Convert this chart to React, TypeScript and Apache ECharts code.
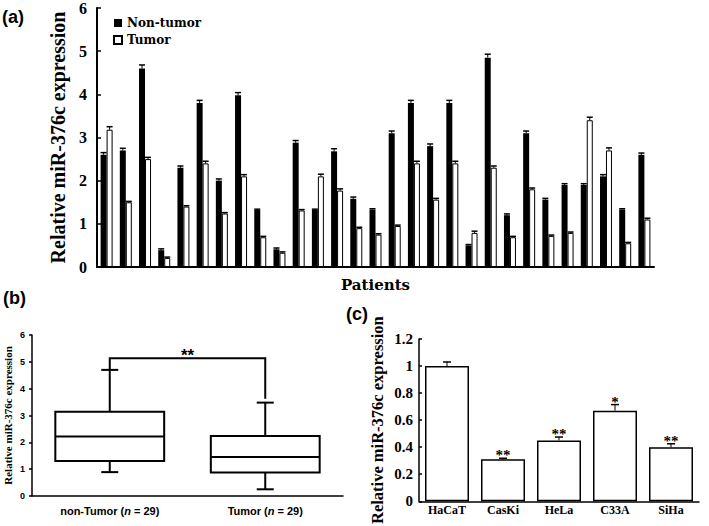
import React, { useEffect, useRef } from "react";
import * as echarts from "echarts";

// ---- Panel (a) ----
const patients = ["1","2","3","4","5","6","7","8","9","10","11","12","13","14","15","16","17","18","19","20","21","22","23","24","25","26","27","28","29"];
const nonTumor = [2.6, 2.7, 4.6, 0.39, 2.3, 3.8, 2.0, 3.98, 1.32, 0.41, 2.88, 1.32, 2.68, 1.58, 1.33, 3.1, 3.8, 2.8, 3.8, 0.5, 4.85, 1.2, 3.1, 1.56, 1.9, 1.9, 2.1, 1.33, 2.6];
const nonTumorErr = [0.05, 0.05, 0.08, 0.03, 0.04, 0.06, 0.04, 0.06, 0.02, 0.03, 0.05, 0.02, 0.06, 0.04, 0.02, 0.05, 0.06, 0.05, 0.06, 0.02, 0.08, 0.03, 0.05, 0.03, 0.03, 0.03, 0.04, 0.02, 0.04];
const tumor = [3.18, 1.5, 2.5, 0.21, 1.4, 2.4, 1.24, 2.1, 0.69, 0.33, 1.31, 2.1, 1.77, 0.9, 0.75, 0.95, 2.4, 1.56, 2.4, 0.79, 2.3, 0.69, 1.8, 0.72, 0.79, 3.4, 2.7, 0.55, 1.1];
const tumorErr = [0.07, 0.02, 0.04, 0.02, 0.02, 0.05, 0.02, 0.04, 0.02, 0.02, 0.02, 0.05, 0.04, 0.02, 0.02, 0.02, 0.05, 0.03, 0.05, 0.04, 0.04, 0.02, 0.03, 0.02, 0.02, 0.07, 0.06, 0.02, 0.03];

// ---- Panel (b) ----
const boxGroups = ["non-Tumor", "Tumor"];
const sampleSizes = [29, 29];
const boxMin = [0.89, 0.25];
const boxQ1 = [1.3, 0.88];
const boxMedian = [2.22, 1.45];
const boxQ3 = [3.14, 2.24];
const boxMax = [4.7, 3.48];
const bracketLevel = [5.13];
const bracketEnds = [4.72, 3.62];
const bracketLabel = ["**"];

// ---- Panel (c) ----
const cellLines = ["HaCaT", "CasKi", "HeLa", "C33A", "SiHa"];
const cellValues = [1.0, 0.31, 0.45, 0.67, 0.4];
const cellErr = [0.03, 0.008, 0.025, 0.045, 0.025];
const cellSig = ["", "**", "**", "*", "**"];

const SERIF = '"Liberation Serif", "Times New Roman", serif';
const SANS = '"Liberation Sans", Arial, sans-serif';

function errRender(offset: number, capHalf: number, labels?: string[]) {
  return (params: any, api: any) => {
    const i = api.value(0);
    const v = api.value(1);
    const e = api.value(2);
    const base = api.coord([i, v]);
    const top = api.coord([i, v + e]);
    const x = base[0] + offset;
    const children: any[] = [
      { type: "line", shape: { x1: x, y1: base[1], x2: x, y2: top[1] }, style: { stroke: "#000", lineWidth: 1 } },
      { type: "line", shape: { x1: x - capHalf, y1: top[1], x2: x + capHalf, y2: top[1] }, style: { stroke: "#000", lineWidth: 1.5 } },
    ];
    if (labels && labels[params.dataIndex]) {
      children.push({
        type: "text",
        style: {
          text: labels[params.dataIndex],
          x,
          y: top[1] - 3,
          align: "center",
          verticalAlign: "middle",
          font: `bold 15px ${SERIF}`,
          fill: "#000",
        },
      });
    }
    return { type: "group", children };
  };
}

export default function App() {
  const ref = useRef<HTMLDivElement>(null);
  useEffect(() => {
    document.body.style.margin = "0";
    if (!ref.current) return;
    const chart = echarts.init(ref.current, null, { renderer: "svg" });
    const option: any = {
      animation: false,
      backgroundColor: "#fff",
      grid: [
        { left: 97, top: 5, right: 55, bottom: 259 },
        { left: 32, top: 335, right: 366, bottom: 30 },
        { left: 419, top: 339, right: 10, bottom: 19 },
      ],
      legend: {
        data: ["Non-tumor", "Tumor"],
        orient: "vertical",
        left: 113,
        top: 16,
        padding: 0,
        icon: "rect",
        itemWidth: 8,
        itemHeight: 8,
        itemGap: 3,
        textStyle: { fontFamily: '"DejaVu Serif", serif', fontWeight: "bold", fontSize: 12, color: "#000", lineHeight: 14 },
      },
      xAxis: [
        {
          gridIndex: 0,
          type: "category",
          data: patients,
          axisLine: { lineStyle: { color: "#000", width: 2 } },
          axisTick: { inside: true, length: 5, lineStyle: { color: "#000", width: 2 } },
          axisLabel: { show: false },
          name: "Patients",
          nameLocation: "middle",
          nameGap: 10,
          nameTextStyle: { fontFamily: '"DejaVu Serif", serif', fontWeight: "bold", fontSize: 15, color: "#000" },
        },
        {
          gridIndex: 1,
          type: "category",
          data: boxGroups,
          axisLine: { lineStyle: { color: "#000", width: 1.5 } },
          axisTick: { alignWithLabel: true, length: 3, lineStyle: { color: "#000", width: 1.5 } },
          axisLabel: {
            interval: 0,
            margin: 9,
            formatter: (v: string, idx: number) => `{t|${v} (}{n|n}{t| = ${sampleSizes[idx]})}`,
            rich: {
              t: { fontFamily: SANS, fontWeight: "bold", fontSize: 11, color: "#000" },
              n: { fontFamily: SANS, fontWeight: "bold", fontStyle: "italic", fontSize: 11, color: "#000" },
            },
          },
        },
        {
          gridIndex: 2,
          type: "category",
          data: cellLines,
          axisLine: { lineStyle: { color: "#000", width: 1.5 } },
          axisTick: { show: false },
          axisLabel: { interval: 0, margin: 3, fontFamily: SERIF, fontWeight: "bold", fontSize: 12, color: "#000" },
        },
      ],
      yAxis: [
        {
          gridIndex: 0,
          type: "value",
          min: 0,
          max: 6,
          interval: 1,
          axisLine: { show: true, lineStyle: { color: "#000", width: 2 } },
          axisTick: { show: true, inside: true, length: 4, lineStyle: { color: "#000", width: 1.5 } },
          splitLine: { show: false },
          axisLabel: { margin: 10, fontFamily: SERIF, fontWeight: "bold", fontSize: 16, color: "#000" },
          name: "Relative miR-376c expression",
          nameLocation: "middle",
          nameGap: 28,
          nameTextStyle: { fontFamily: SERIF, fontWeight: "bold", fontSize: 20, color: "#000" },
        },
        {
          gridIndex: 1,
          type: "value",
          min: 0,
          max: 6,
          interval: 1,
          axisLine: { show: true, lineStyle: { color: "#000", width: 1.5 } },
          axisTick: { show: true, length: 3, lineStyle: { color: "#000", width: 1.5 } },
          splitLine: { show: false },
          axisLabel: { margin: 7, fontFamily: SANS, fontWeight: "bold", fontSize: 9, color: "#000" },
          name: "Relative miR-376c expression",
          nameLocation: "middle",
          nameGap: 19,
          nameTextStyle: { fontFamily: SERIF, fontWeight: "bold", fontSize: 11, color: "#000" },
        },
        {
          gridIndex: 2,
          type: "value",
          min: 0,
          max: 1.2,
          interval: 0.2,
          axisLine: { show: true, lineStyle: { color: "#000", width: 1.5 } },
          axisTick: { show: true, inside: true, length: 3, lineStyle: { color: "#000", width: 1.5 } },
          splitLine: { show: false },
          axisLabel: {
            margin: 6,
            fontFamily: SERIF,
            fontWeight: "bold",
            fontSize: 15,
            color: "#000",
            formatter: (v: number) => String(Math.round(v * 10) / 10),
          },
          name: "Relative miR-376c expression",
          nameLocation: "middle",
          nameGap: 33,
          nameTextStyle: { fontFamily: SERIF, fontWeight: "bold", fontSize: 16.5, color: "#000" },
        },
      ],
      series: [
        {
          name: "Non-tumor",
          type: "bar",
          xAxisIndex: 0,
          yAxisIndex: 0,
          data: nonTumor,
          barWidth: 6,
          barGap: "0%",
          itemStyle: { color: "#000", borderColor: "#000", borderWidth: 0 },
        },
        {
          name: "Tumor",
          type: "bar",
          xAxisIndex: 0,
          yAxisIndex: 0,
          data: tumor,
          barWidth: 6,
          barGap: "0%",
          itemStyle: { color: "#fff", borderColor: "#000", borderWidth: 1 },
        },
        {
          type: "custom",
          xAxisIndex: 0,
          yAxisIndex: 0,
          z: 5,
          data: nonTumor.map((v, i) => [i, v, nonTumorErr[i]]),
          renderItem: errRender(-3, 3),
        },
        {
          type: "custom",
          xAxisIndex: 0,
          yAxisIndex: 0,
          z: 5,
          data: tumor.map((v, i) => [i, v, tumorErr[i]]),
          renderItem: errRender(3, 3),
        },
        {
          type: "custom",
          xAxisIndex: 1,
          yAxisIndex: 1,
          data: boxGroups.map((_, i) => [i, boxMin[i], boxQ1[i], boxMedian[i], boxQ3[i], boxMax[i]]),
          renderItem: (params: any, api: any) => {
            const i = api.value(0);
            const cx = api.coord([i, 0])[0];
            const bw = api.size([1, 0])[0] * 0.7;
            const yMin = api.coord([i, api.value(1)])[1];
            const yQ1 = api.coord([i, api.value(2)])[1];
            const yMed = api.coord([i, api.value(3)])[1];
            const yQ3 = api.coord([i, api.value(4)])[1];
            const yMax = api.coord([i, api.value(5)])[1];
            const capHalf = 8.5;
            const ls = { stroke: "#000", lineWidth: 2 };
            return {
              type: "group",
              children: [
                { type: "line", shape: { x1: cx, y1: yQ3, x2: cx, y2: yMax }, style: ls },
                { type: "line", shape: { x1: cx - capHalf, y1: yMax, x2: cx + capHalf, y2: yMax }, style: ls },
                { type: "line", shape: { x1: cx, y1: yQ1, x2: cx, y2: yMin }, style: ls },
                { type: "line", shape: { x1: cx - capHalf, y1: yMin, x2: cx + capHalf, y2: yMin }, style: ls },
                { type: "rect", shape: { x: cx - bw / 2, y: yQ3, width: bw, height: yQ1 - yQ3 }, style: { fill: "#fff", stroke: "#000", lineWidth: 2 } },
                { type: "line", shape: { x1: cx - bw / 2, y1: yMed, x2: cx + bw / 2, y2: yMed }, style: ls },
              ],
            };
          },
        },
        {
          type: "custom",
          xAxisIndex: 1,
          yAxisIndex: 1,
          data: [[0, bracketLevel[0], 1]],
          renderItem: (params: any, api: any) => {
            const a = api.coord([0, bracketEnds[0]]);
            const top0 = api.coord([0, bracketLevel[0]]);
            const top1 = api.coord([1, bracketLevel[0]]);
            const b = api.coord([1, bracketEnds[1]]);
            return {
              type: "group",
              children: [
                {
                  type: "polyline",
                  shape: { points: [[a[0], a[1]], [top0[0], top0[1]], [top1[0], top1[1]], [b[0], b[1]]] },
                  style: { stroke: "#000", lineWidth: 2, fill: "none" },
                },
                {
                  type: "text",
                  style: {
                    text: bracketLabel[0],
                    x: (top0[0] + top1[0]) / 2,
                    y: top0[1] - 3,
                    align: "center",
                    verticalAlign: "middle",
                    font: `bold 17px ${SANS}`,
                    fill: "#000",
                  },
                },
              ],
            };
          },
        },
        {
          type: "bar",
          xAxisIndex: 2,
          yAxisIndex: 2,
          data: cellValues,
          barWidth: 44,
          itemStyle: { color: "#fff", borderColor: "#000", borderWidth: 1.5 },
        },
        {
          type: "custom",
          xAxisIndex: 2,
          yAxisIndex: 2,
          z: 5,
          data: cellValues.map((v, i) => [i, v, cellErr[i]]),
          renderItem: errRender(0, 4, cellSig),
        },
      ],
      graphic: [
        { type: "text", left: 2, top: 8, style: { text: "(a)", font: `bold 18px ${SANS}`, fill: "#000" } },
        { type: "text", left: 3, top: 289, style: { text: "(b)", font: `bold 18px ${SANS}`, fill: "#000" } },
        { type: "text", left: 346, top: 305, style: { text: "(c)", font: `bold 18px ${SANS}`, fill: "#000" } },
      ],
    };
    chart.setOption(option);
    return () => chart.dispose();
  }, []);
  return <div ref={ref} style={{ width: 709, height: 526 }} />;
}
